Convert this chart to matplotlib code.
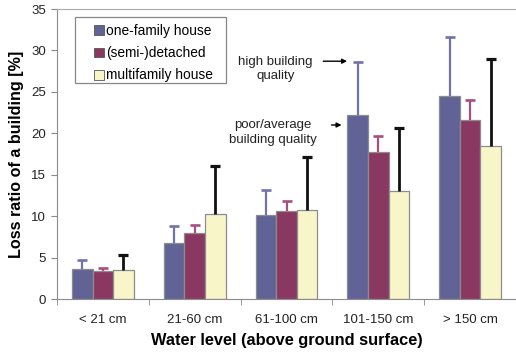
import matplotlib
matplotlib.use("Agg")
import matplotlib.pyplot as plt
from matplotlib.patches import Rectangle
import numpy as np

categories = ["< 21 cm", "21-60 cm", "61-100 cm", "101-150 cm", "> 150 cm"]
series_names = ["one-family house", "(semi-)detached", "multifamily house"]
one_family = [3.6, 6.8, 10.1, 22.2, 24.5]
one_family_top = [4.7, 8.8, 13.1, 28.6, 31.6]
semi_detached = [3.4, 8.0, 10.6, 17.7, 21.6]
semi_detached_top = [3.8, 8.9, 11.8, 19.7, 24.0]
multifamily = [3.5, 10.2, 10.8, 13.0, 18.5]
multifamily_top = [5.3, 16.1, 17.1, 20.6, 29.0]

plt.rcParams['font.family'] = ['Liberation Sans', 'DejaVu Sans']

fig = plt.figure(figsize=(5.16, 3.53), dpi=100)
ax = fig.add_axes([57/516, 54/353, 459/516, 290/353])

bar_colors = ["#616396", "#8A3862", "#F8F6C8"]
err_colors = ["#6F72AC", "#A84D80", "#111111"]
err_lw = [1.6, 1.6, 2.0]
vals = [one_family, semi_detached, multifamily]
tops = [one_family_top, semi_detached_top, multifamily_top]

x = np.arange(len(categories))
w = 0.224
for i in range(3):
    pos = x + (i - 1) * w
    v = np.array(vals[i])
    t = np.array(tops[i])
    ax.bar(pos, v, width=w, color=bar_colors[i], edgecolor="#8C8C8C",
           linewidth=0.9, label=series_names[i], zorder=2)
    ax.vlines(pos, v, t, colors=err_colors[i], linewidth=err_lw[i], zorder=3)
    ax.plot(pos, t, linestyle="none", marker="_", markersize=7,
            markeredgewidth=err_lw[i] + 0.3, color=err_colors[i], zorder=3)

ax.set_xlim(-0.5, 4.5)
ax.set_ylim(0, 35)
ax.set_yticks(np.arange(0, 36, 5))
ax.set_xticks(x)
ax.set_xticklabels(categories)
ax.set_xticks(np.arange(-0.5, 5.0, 1.0), minor=True)
ax.tick_params(axis="x", which="major", length=0, pad=11, labelsize=9.5, colors="#222222")
ax.tick_params(axis="x", which="minor", length=4, direction="out", color="#888888")
ax.tick_params(axis="y", length=4, direction="out", color="#888888", labelsize=9.5,
               labelcolor="#222222", pad=4)

for s in ["left", "bottom"]:
    ax.spines[s].set_color("#8C8C8C")
ax.spines["top"].set_color("#AAAAAA")
ax.spines["right"].set_visible(False)

ax.set_ylabel("Loss ratio of a building [%]", fontsize=11.6, fontweight="bold", labelpad=5)
ax.set_xlabel("Water level (above ground surface)", fontsize=11.8, fontweight="bold", labelpad=5)

# legend box
ax.add_patch(Rectangle(((75 - 57) / 459, (299 - 83) / 290), 151 / 459, 66 / 290,
                       transform=ax.transAxes, facecolor="white", edgecolor="#888888",
                       linewidth=0.9, zorder=4))
leg = ax.legend(loc="upper left", bbox_to_anchor=((94 - 57) / 459, (299 - 24) / 290),
                frameon=False, fontsize=9.9, handlelength=0.7, handleheight=0.7,
                handletextpad=0.2, borderpad=0, labelspacing=0.6, borderaxespad=0)
leg.set_zorder(5)
for h in leg.legend_handles:
    h.set_edgecolor("#555555")
    h.set_linewidth(0.6)

ax.annotate("", xy=(2.69, 28.7), xytext=(2.37, 28.7),
            arrowprops=dict(arrowstyle="-|>", color="black", lw=1.0, mutation_scale=7))
ax.text(1.88, 27.8, "high building\nquality", ha="center", va="center", fontsize=9.5,
        color="#222222", linespacing=1.25)
ax.annotate("", xy=(2.63, 21.0), xytext=(2.46, 21.0),
            arrowprops=dict(arrowstyle="-|>", color="black", lw=1.0, mutation_scale=7))
ax.text(1.85, 20.1, "poor/average\nbuilding quality", ha="center", va="center", fontsize=9.5,
        color="#222222", linespacing=1.25)

fig.savefig("out.png", dpi=100)
